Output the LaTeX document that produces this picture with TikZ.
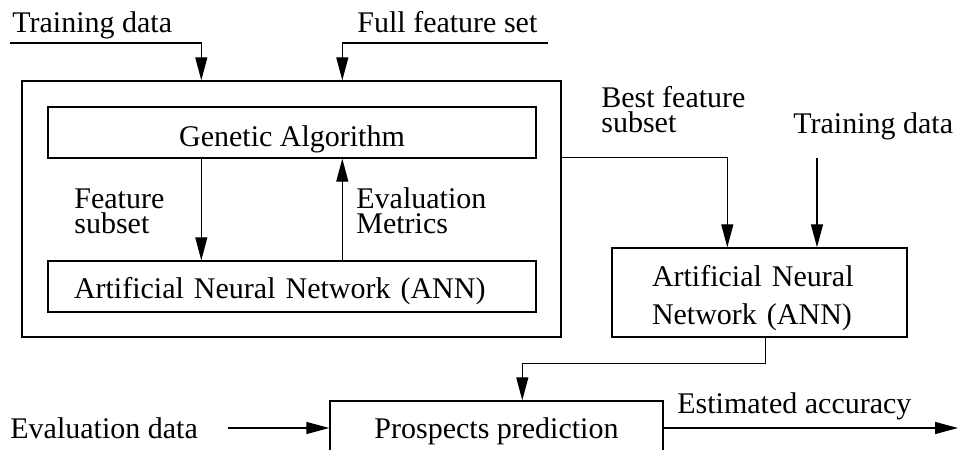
\documentclass[tikz,border=0pt]{standalone}
\usepackage{fontspec}
\setmainfont{Liberation Serif}
\usetikzlibrary{arrows.meta,calc}
\begin{document}
\begin{tikzpicture}[x=0.5pt,y=-0.5pt,
  every node/.style={font=\fontsize{15}{12.5}\selectfont, inner sep=0pt},
  box/.style={draw, line width=0.7pt},
  lbl/.style={anchor=base west, align=left},
  arr/.style={line width=0.6pt, -{Triangle[length=11.5pt,width=6pt]}}]
\useasboundingbox (0,0) rectangle (959,450);
\clip (0,0) rectangle (959,450);
% boxes
\node[box, minimum width=269.5pt, minimum height=128pt] (outer) at (291.5,209) {};
\node[box, minimum width=244pt, minimum height=25.5pt, text height=13.5pt, text depth=0pt] (ga) at (292,132.5) {Genetic Algorithm};
\node[box, minimum width=244pt, minimum height=25.5pt, text width=218pt, align=left, inner xsep=13pt, text height=11.5pt, text depth=0pt] (ann1) at (292,286.5) {Artificial Neural Network (ANN)};
\node[box, minimum width=147.5pt, minimum height=44.5pt, text width=107.5pt, align=left, inner xsep=20pt, font=\fontsize{15}{19}\selectfont, text height=10pt, text depth=16.5pt] (ann2) at (759.5,292.5) {Artificial Neural\\Network (ANN)};
\node[box, minimum width=166.5pt, minimum height=30pt] (pp) at (496.5,431) {Prospects prediction};
% labels
\node[lbl] (l1) at (12,32) {Training data};
\node[lbl] (l2) at (357,32) {Full feature set};
\node[lbl] (l3) at (74,233) {Feature\\subset};
\node[lbl] (l4) at (356,233) {Evaluation\\Metrics};
\node[lbl] (l5) at (601,132) {Best feature\\subset};
\node[lbl] (l6) at (793,133) {Training data};
\node[lbl] (l7) at (10,438) {Evaluation data};
\node[lbl] (l8) at (677,413) {Estimated accuracy};
% free ends
\coordinate (tdA) at (10,43);
\coordinate (ffA) at (548,43);
\coordinate (tdB) at (817,158);
\coordinate (edA) at (228,428);
\coordinate (accA) at (958,428);
% connectors
\draw[arr] (tdA) -| ($(outer.north west)+(180,0)$);
\draw[arr] (ffA) -| ($(outer.north west)+(321,0)$);
\draw[arr] ($(ga.south west)+(154,0)$) -- ($(ann1.north west)+(154,0)$);
\draw[arr] ($(ann1.north west)+(295,0)$) -- ($(ga.south west)+(295,0)$);
\draw[arr] ($(outer.north east)+(0,77)$) -| ($(ann2.north west)+(116,0)$);
\draw[arr] (tdB) -- (tdB |- ann2.north);
\draw[arr] ($(ann2.south west)+(154,0)$) -- ++(0,26) -| ($(pp.north west)+(193,0)$);
\draw[arr] (edA) -- (edA -| pp.west);
\draw[arr] (edA -| pp.east) -- (accA);
\end{tikzpicture}
\end{document}
